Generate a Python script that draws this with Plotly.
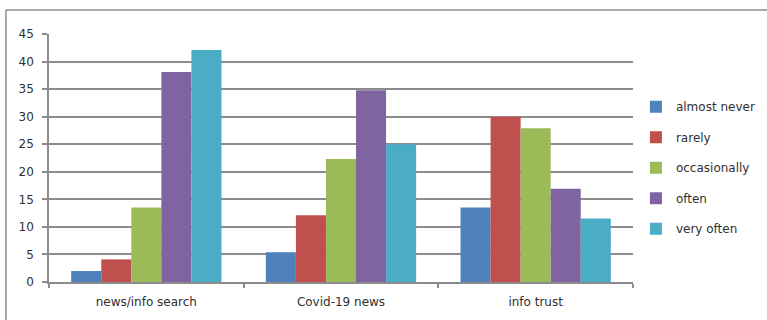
import plotly.graph_objects as go

# Survey categories and response frequency (%)
categories = ["news/info search", "Covid-19 news", "info trust"]
series_names = ["almost never", "rarely", "occasionally", "often", "very often"]
almost_never = [2.0, 5.4, 13.5]
rarely = [4.1, 12.1, 30.0]
occasionally = [13.5, 22.3, 27.9]
often = [38.1, 34.8, 16.9]
very_often = [42.1, 25.0, 11.5]
y_ticks = [0, 5, 10, 15, 20, 25, 30, 35, 40, 45]

colors = ["#4F81BD", "#C0504D", "#9BBB59", "#8064A2", "#4BACC6"]
values = [almost_never, rarely, occasionally, often, very_often]

FONT = "DejaVu Sans"
TEXT = "#303030"
GRID = "#8c8c8c"

fig = go.Figure()
for name, vals, col in zip(series_names, values, colors):
    fig.add_trace(go.Bar(
        x=categories, y=vals, name=name,
        marker=dict(color=col, line=dict(width=0)),
        legendgroup=name,
    ))

fig.update_layout(
    width=767, height=320,
    margin=dict(l=49, r=134, t=34, b=38, autoexpand=False),
    paper_bgcolor="white", plot_bgcolor="white",
    barmode="group", bargap=0.228, bargroupgap=0,
    font=dict(family=FONT, size=12, color=TEXT),
    showlegend=True,
    legend=dict(
        x=1.005, xanchor="left", y=0.765, yanchor="top",
        traceorder="grouped", tracegroupgap=11.5,
        itemwidth=30, font=dict(family=FONT, size=12, color=TEXT),
        bgcolor="rgba(0,0,0,0)",
    ),
    xaxis=dict(
        showgrid=False, showline=True, linecolor=GRID, linewidth=1.5,
        ticks="outside", tickson="boundaries", ticklen=4, tickcolor=GRID,
        tickwidth=1.5, ticklabelstandoff=8,
        tickfont=dict(family=FONT, size=12, color=TEXT),
    ),
    yaxis=dict(
        range=[0, 45], tickvals=y_ticks, showgrid=True, gridcolor=GRID,
        gridwidth=1.5, showline=True, linecolor=GRID, linewidth=1.5,
        ticks="outside", ticklen=5, tickcolor=GRID, tickwidth=1.5,
        ticklabelstandoff=6, zeroline=False,
        tickfont=dict(family=FONT, size=12, color=TEXT),
    ),
    shapes=[
        dict(type="line", xref="paper", yref="paper", x0=-0.0737, x1=-0.0737,
             y0=1.097, y1=-0.2, line=dict(color=GRID, width=1.5)),
        dict(type="line", xref="paper", yref="paper", x0=-0.0737, x1=1.3,
             y0=1.097, y1=1.097, line=dict(color=GRID, width=1.5)),
    ],
)

fig.write_html("out.html")
